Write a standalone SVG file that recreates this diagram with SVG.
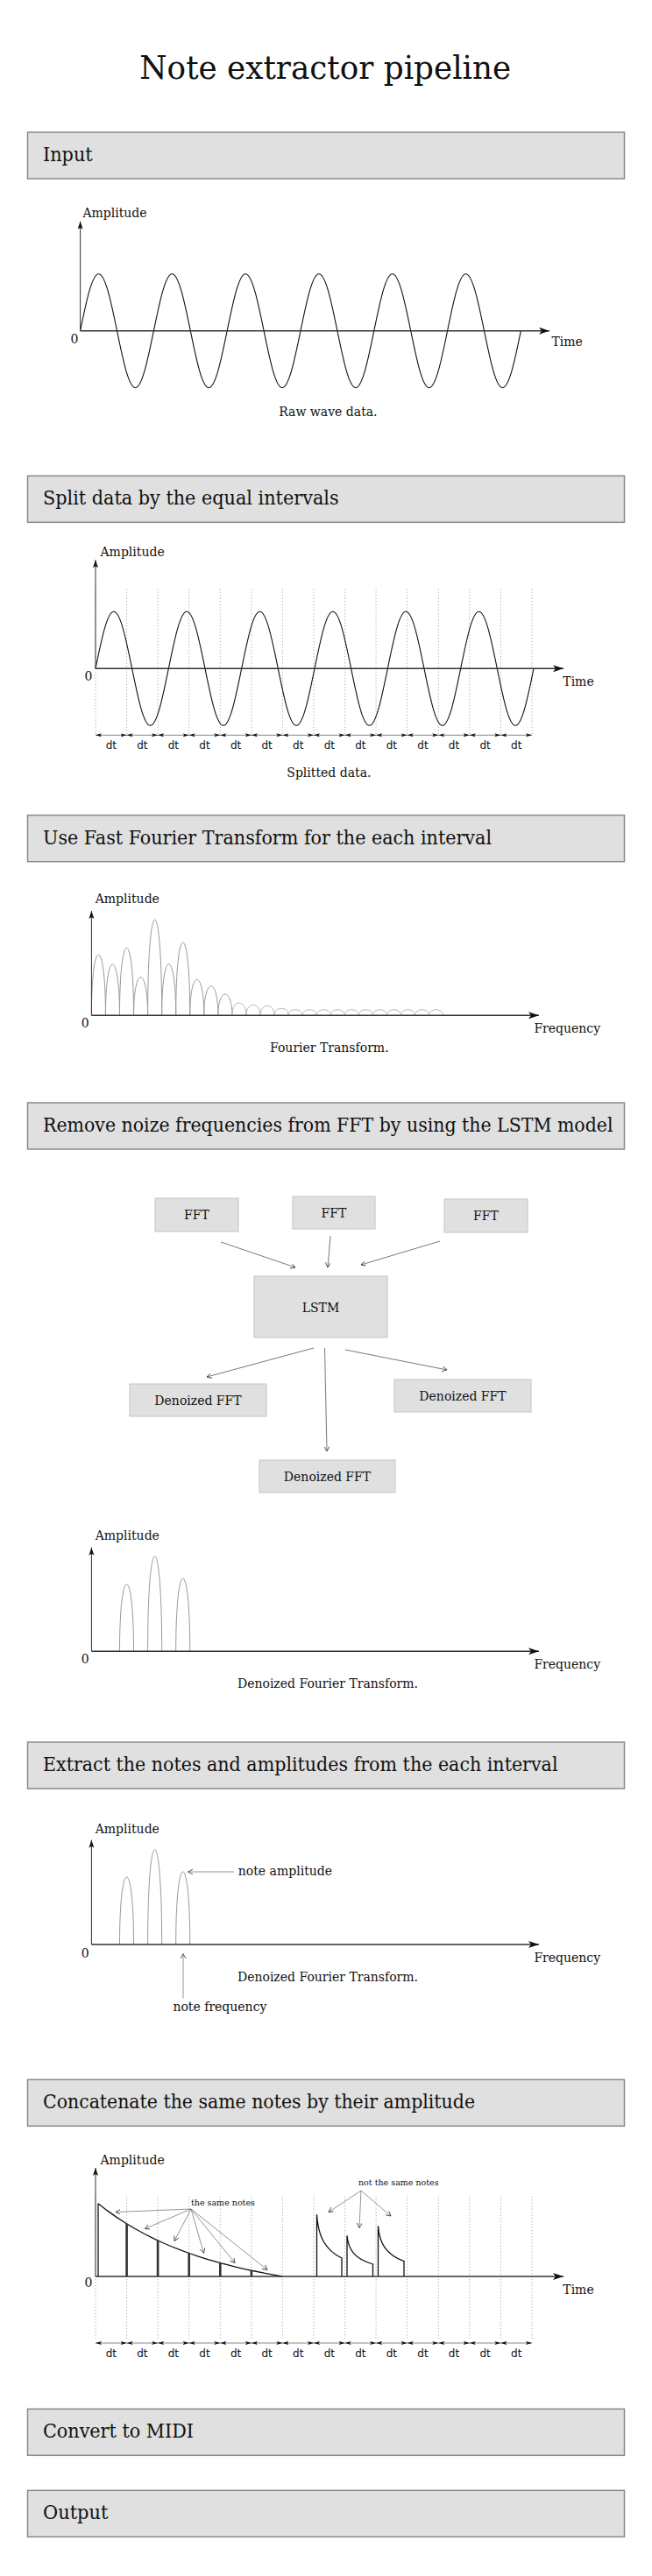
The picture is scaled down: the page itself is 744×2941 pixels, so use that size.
<svg xmlns="http://www.w3.org/2000/svg" width="744" height="2941" viewBox="0 0 744 2941">
<style>
text{font-family:"DejaVu Serif","Liberation Serif",serif;fill:#111}
.title{font-size:38px}
.hdr{font-size:22px}
.lbl{font-size:14px}
.sm{font-size:9.5px}
.dt{font-family:"DejaVu Sans","Liberation Sans",sans-serif;font-size:12px;text-anchor:middle}
.mid{text-anchor:middle}
.hbox{fill:#e0e0e0;stroke:#8a8a8a;stroke-width:1.5}
.nbox{fill:#e0e0e0;stroke:#c4c4c4;stroke-width:1}
.xax{stroke:#333;stroke-width:1.6;fill:none;marker-end:url(#xhead)}
.yax{stroke:#333;stroke-width:1;fill:none;marker-end:url(#yhead)}
.wave{stroke:#111;stroke-width:1.1;fill:none}
.dot{stroke:#999;stroke-width:1;stroke-dasharray:1 2.5;fill:none}
.dtl{stroke:#888;stroke-width:1;marker-start:url(#dth);marker-end:url(#dth)}
.lobe{stroke:#9a9a9a;stroke-width:1;fill:none}
.lobe2{stroke:#b5b5b5;stroke-width:1;fill:none}
.conn{stroke:#555;stroke-width:0.8;fill:none;marker-end:url(#open)}
.ann{stroke:#666;stroke-width:0.7;fill:none;marker-end:url(#open)}
.note{stroke:#111;stroke-width:1.3;fill:none}
.bar{stroke:#333;stroke-width:2.6}
</style>
<defs>
<marker id="xhead" markerUnits="userSpaceOnUse" markerWidth="13" markerHeight="9" refX="12" refY="4" orient="auto"><path d="M0,0 L12,4 L0,8 L3,4 z" fill="#111"/></marker>
<marker id="yhead" markerUnits="userSpaceOnUse" markerWidth="10" markerHeight="7" refX="9" refY="3" orient="auto"><path d="M0,0 L9,3 L0,6 L2,3 z" fill="#111"/></marker>
<marker id="open" markerUnits="userSpaceOnUse" markerWidth="7" markerHeight="7" refX="5.5" refY="3" orient="auto"><path d="M0,0 L5.5,3 L0,6" fill="none" stroke="#333" stroke-width="0.8"/></marker>
<marker id="dth" markerUnits="userSpaceOnUse" markerWidth="8" markerHeight="5" refX="7" refY="2" orient="auto-start-reverse"><path d="M0,0 L7,2 L0,4 L1.5,2 z" fill="#111"/></marker>
</defs>
<rect x="0" y="0" width="744" height="2941" fill="#fff"/>

<g id="title"><text class="title" x="159.3" y="90" textLength="424" lengthAdjust="spacingAndGlyphs">Note extractor pipeline</text></g>

<!-- Headers -->
<g id="step-input"><rect class="hbox" x="31.5" y="151" width="681" height="53"/><text class="hdr" x="49" y="184" textLength="56.7" lengthAdjust="spacingAndGlyphs">Input</text></g>
<g id="step-split"><rect class="hbox" x="31.5" y="543.3" width="681" height="53"/><text class="hdr" x="49" y="576.3" textLength="337.6" lengthAdjust="spacingAndGlyphs">Split data by the equal intervals</text></g>
<g id="step-fft"><rect class="hbox" x="31.5" y="930.7" width="681" height="53"/><text class="hdr" x="49" y="963.7" textLength="512" lengthAdjust="spacingAndGlyphs">Use Fast Fourier Transform for the each interval</text></g>
<g id="step-denoise"><rect class="hbox" x="31.5" y="1259" width="681" height="53"/><text class="hdr" x="49" y="1292" textLength="650.5" lengthAdjust="spacingAndGlyphs">Remove noize frequencies from FFT by using the LSTM model</text></g>
<g id="step-extract"><rect class="hbox" x="31.5" y="1989" width="681" height="53"/><text class="hdr" x="49" y="2022" textLength="587.5" lengthAdjust="spacingAndGlyphs">Extract the notes and amplitudes from the each interval</text></g>
<g id="step-concat"><rect class="hbox" x="31.5" y="2374.3" width="681" height="53"/><text class="hdr" x="49" y="2407.3" textLength="493" lengthAdjust="spacingAndGlyphs">Concatenate the same notes by their amplitude</text></g>
<g id="step-midi"><rect class="hbox" x="31.5" y="2750.3" width="681" height="53"/><text class="hdr" x="49" y="2783.3" textLength="172" lengthAdjust="spacingAndGlyphs">Convert to MIDI</text></g>
<g id="step-output"><rect class="hbox" x="31.5" y="2843.3" width="681" height="53"/><text class="hdr" x="49" y="2876.3" textLength="74.4" lengthAdjust="spacingAndGlyphs">Output</text></g>

<!-- Chart 1: raw wave -->
<g id="chart-raw">
<path class="wave" d="M91.6,377.7 c6.832,-33.3 13.368,-65 20.95,-65 c7.582,0 14.118,31.7 20.95,65 c6.832,33.3 13.368,65 20.95,65 c7.582,0 14.118,-31.7 20.95,-65 c6.832,-33.3 13.368,-65 20.95,-65 c7.582,0 14.118,31.7 20.95,65 c6.832,33.3 13.368,65 20.95,65 c7.582,0 14.118,-31.7 20.95,-65 c6.832,-33.3 13.368,-65 20.95,-65 c7.582,0 14.118,31.7 20.95,65 c6.832,33.3 13.368,65 20.95,65 c7.582,0 14.118,-31.7 20.95,-65 c6.832,-33.3 13.368,-65 20.95,-65 c7.582,0 14.118,31.7 20.95,65 c6.832,33.3 13.368,65 20.95,65 c7.582,0 14.118,-31.7 20.95,-65 c6.832,-33.3 13.368,-65 20.95,-65 c7.582,0 14.118,31.7 20.95,65 c6.832,33.3 13.368,65 20.95,65 c7.582,0 14.118,-31.7 20.95,-65 c6.832,-33.3 13.368,-65 20.95,-65 c7.582,0 14.118,31.7 20.95,65 c6.832,33.3 13.368,65 20.95,65 c7.582,0 14.118,-31.7 20.95,-65"/>
<line class="yax" x1="91.6" y1="377.7" x2="91.6" y2="252.7"/>
<line class="xax" x1="91.6" y1="377.7" x2="627" y2="377.7"/>
<text class="lbl" x="94.4" y="248.3">Amplitude</text>
<text class="lbl mid" x="85" y="391.7">0</text>
<text class="lbl" x="629.5" y="395">Time</text>
<text class="lbl mid" x="374.4" y="475">Raw wave data.</text>
</g>

<!-- Chart 2: split -->
<g id="chart-split">
<path class="dot" d="M109,672.3V838.3M144.6,672.3V838.3M180.1,672.3V838.3M215.7,672.3V838.3M251.3,672.3V838.3M286.9,672.3V838.3M322.4,672.3V838.3M358,672.3V838.3M393.6,672.3V838.3M429.1,672.3V838.3M464.7,672.3V838.3M500.3,672.3V838.3M535.8,672.3V838.3M571.4,672.3V838.3M607,672.3V838.3"/>
<path class="wave" d="M109,763.3 c6.794,-33.3 13.293,-65 20.833,-65 c7.54,0 14.039,31.7 20.833,65 c6.794,33.3 13.293,65 20.833,65 c7.54,0 14.039,-31.7 20.833,-65 c6.794,-33.3 13.293,-65 20.833,-65 c7.54,0 14.039,31.7 20.833,65 c6.794,33.3 13.293,65 20.833,65 c7.54,0 14.039,-31.7 20.833,-65 c6.794,-33.3 13.293,-65 20.833,-65 c7.54,0 14.039,31.7 20.833,65 c6.794,33.3 13.293,65 20.833,65 c7.54,0 14.039,-31.7 20.833,-65 c6.794,-33.3 13.293,-65 20.833,-65 c7.54,0 14.039,31.7 20.833,65 c6.794,33.3 13.293,65 20.833,65 c7.54,0 14.039,-31.7 20.833,-65 c6.794,-33.3 13.293,-65 20.833,-65 c7.54,0 14.039,31.7 20.833,65 c6.794,33.3 13.293,65 20.833,65 c7.54,0 14.039,-31.7 20.833,-65 c6.794,-33.3 13.293,-65 20.833,-65 c7.54,0 14.039,31.7 20.833,65 c6.794,33.3 13.293,65 20.833,65 c7.54,0 14.039,-31.7 20.833,-65"/>
<line class="yax" x1="109" y1="763.3" x2="109" y2="639.3"/>
<line class="xax" x1="109" y1="763.3" x2="643" y2="763.3"/>
<g>
<line class="dtl" x1="109" y1="839.3" x2="144.6" y2="839.3"/><line class="dtl" x1="144.6" y1="839.3" x2="180.1" y2="839.3"/><line class="dtl" x1="180.1" y1="839.3" x2="215.7" y2="839.3"/><line class="dtl" x1="215.7" y1="839.3" x2="251.3" y2="839.3"/><line class="dtl" x1="251.3" y1="839.3" x2="286.9" y2="839.3"/><line class="dtl" x1="286.9" y1="839.3" x2="322.4" y2="839.3"/><line class="dtl" x1="322.4" y1="839.3" x2="358" y2="839.3"/><line class="dtl" x1="358" y1="839.3" x2="393.6" y2="839.3"/><line class="dtl" x1="393.6" y1="839.3" x2="429.1" y2="839.3"/><line class="dtl" x1="429.1" y1="839.3" x2="464.7" y2="839.3"/><line class="dtl" x1="464.7" y1="839.3" x2="500.3" y2="839.3"/><line class="dtl" x1="500.3" y1="839.3" x2="535.8" y2="839.3"/><line class="dtl" x1="535.8" y1="839.3" x2="571.4" y2="839.3"/><line class="dtl" x1="571.4" y1="839.3" x2="607" y2="839.3"/>
</g>
<g>
<text class="dt" x="126.8" y="855.3">dt</text><text class="dt" x="162.4" y="855.3">dt</text><text class="dt" x="197.9" y="855.3">dt</text><text class="dt" x="233.5" y="855.3">dt</text><text class="dt" x="269.1" y="855.3">dt</text><text class="dt" x="304.6" y="855.3">dt</text><text class="dt" x="340.2" y="855.3">dt</text><text class="dt" x="375.8" y="855.3">dt</text><text class="dt" x="411.3" y="855.3">dt</text><text class="dt" x="446.9" y="855.3">dt</text><text class="dt" x="482.5" y="855.3">dt</text><text class="dt" x="518" y="855.3">dt</text><text class="dt" x="553.6" y="855.3">dt</text><text class="dt" x="589.2" y="855.3">dt</text>
</g>
<text class="lbl" x="114.5" y="635">Amplitude</text>
<text class="lbl mid" x="101" y="776.7">0</text>
<text class="lbl" x="642.3" y="783.3">Time</text>
<text class="lbl mid" x="375.4" y="886.7">Splitted data.</text>
</g>

<!-- Chart 3: FFT -->
<g id="chart-fft">
<path class="lobe" d="M104.4,1159.3C104.4,1066.9 120.45,1066.9 120.45,1159.3 M120.45,1159.3C120.45,1081.6 136.5,1081.6 136.5,1159.3 M136.5,1159.3C136.5,1056.6 152.55,1056.6 152.55,1159.3 M152.55,1159.3C152.55,1101.2 168.6,1101.2 168.6,1159.3 M168.6,1159.3C168.6,1013.6 184.65,1013.6 184.65,1159.3 M184.65,1159.3C184.65,1081.2 200.7,1081.2 200.7,1159.3 M200.7,1159.3C200.7,1048.2 216.75,1048.2 216.75,1159.3 M216.75,1159.3C216.75,1104.6 232.8,1104.6 232.8,1159.3 M232.8,1159.3C232.8,1114.5 248.85,1114.5 248.85,1159.3 M248.85,1159.3C248.85,1126.9 264.9,1126.9 264.9,1159.3"/>
<path class="lobe2" d="M264.9,1159.3C264.9,1140.2 280.95,1140.2 280.95,1159.3 M280.95,1159.3C280.95,1143.3 297,1143.3 297,1159.3 M297,1159.3C297,1144.6 313.05,1144.6 313.05,1159.3 M313.05,1159.3C313.05,1148.6 329.1,1148.6 329.1,1159.3 M329.1,1159.3C329.1,1150.6 345.15,1150.6 345.15,1159.3 M345.15,1159.3C345.15,1150.6 361.2,1150.6 361.2,1159.3 M361.2,1159.3C361.2,1150.6 377.25,1150.6 377.25,1159.3 M377.25,1159.3C377.25,1150.6 393.3,1150.6 393.3,1159.3 M393.3,1159.3C393.3,1150.6 409.35,1150.6 409.35,1159.3 M409.35,1159.3C409.35,1150.6 425.4,1150.6 425.4,1159.3 M425.4,1159.3C425.4,1150.6 441.45,1150.6 441.45,1159.3 M441.45,1159.3C441.45,1150.6 457.5,1150.6 457.5,1159.3 M457.5,1159.3C457.5,1150.6 473.55,1150.6 473.55,1159.3 M473.55,1159.3C473.55,1150.6 489.6,1150.6 489.6,1159.3 M489.6,1159.3C489.6,1150.6 505.65,1150.6 505.65,1159.3"/>
<line class="yax" x1="104.4" y1="1159.3" x2="104.4" y2="1040"/>
<line class="xax" x1="104.4" y1="1159.3" x2="615" y2="1159.3"/>
<text class="lbl" x="108.7" y="1031">Amplitude</text>
<text class="lbl mid" x="97.3" y="1173.3">0</text>
<text class="lbl" x="609.4" y="1179.3">Frequency</text>
<text class="lbl mid" x="375.8" y="1201">Fourier Transform.</text>
</g>

<!-- LSTM nodes -->
<g id="fft-1"><rect class="nbox" x="177" y="1368" width="95" height="38"/><text class="lbl mid" x="224.5" y="1392">FFT</text></g>
<g id="fft-2"><rect class="nbox" x="334" y="1366" width="94" height="37"/><text class="lbl mid" x="381" y="1389.5">FFT</text></g>
<g id="fft-3"><rect class="nbox" x="507" y="1369" width="95" height="38"/><text class="lbl mid" x="554.5" y="1393">FFT</text></g>
<g id="lstm"><rect class="nbox" x="290" y="1457" width="152" height="70"/><text class="lbl mid" x="366" y="1497.5">LSTM</text></g>
<g id="denoized-1"><rect class="nbox" x="148" y="1580" width="156" height="37"/><text class="lbl mid" x="226" y="1603.5">Denoized FFT</text></g>
<g id="denoized-2"><rect class="nbox" x="450" y="1575" width="156" height="37"/><text class="lbl mid" x="528" y="1598.5">Denoized FFT</text></g>
<g id="denoized-3"><rect class="nbox" x="296" y="1667" width="155" height="37"/><text class="lbl mid" x="373.5" y="1690.5">Denoized FFT</text></g>

<!-- Chart 4: denoised FFT -->
<g id="chart-denoised">
<path class="lobe" d="M136.5,1885.3C136.5,1783.2 152.55,1783.2 152.55,1885.3 M168.6,1885.3C168.6,1740.5 184.65,1740.5 184.65,1885.3 M200.7,1885.3C200.7,1774.2 216.75,1774.2 216.75,1885.3"/>
<line class="yax" x1="104.4" y1="1885.3" x2="104.4" y2="1766.7"/>
<line class="xax" x1="104.4" y1="1885.3" x2="615" y2="1885.3"/>
<text class="lbl" x="108.7" y="1757.7">Amplitude</text>
<text class="lbl mid" x="97.3" y="1899">0</text>
<text class="lbl" x="609.4" y="1905">Frequency</text>
<text class="lbl mid" x="374" y="1927">Denoized Fourier Transform.</text>
</g>

<!-- Chart 5: extract -->
<g id="chart-extract">
<path class="lobe" d="M136.5,2220C136.5,2117.3 152.55,2117.3 152.55,2220 M168.6,2220C168.6,2075.6 184.65,2075.6 184.65,2220 M200.7,2220C200.7,2109.3 216.75,2109.3 216.75,2220"/>
<line class="yax" x1="104.4" y1="2220" x2="104.4" y2="2100.7"/>
<line class="xax" x1="104.4" y1="2220" x2="615" y2="2220"/>
<text class="lbl" x="108.7" y="2092.7">Amplitude</text>
<text class="lbl mid" x="97.3" y="2235">0</text>
<text class="lbl" x="609.4" y="2240">Frequency</text>
<text class="lbl mid" x="374" y="2262">Denoized Fourier Transform.</text>
<text class="lbl" x="271.8" y="2140.7">note amplitude</text>
<text class="lbl" x="197.4" y="2296">note frequency</text>
</g>

<!-- Chart 6: concatenate -->
<g id="chart-concat">
<path class="dot" d="M109,2507.7V2672M144.6,2507.7V2672M180.1,2507.7V2672M215.7,2507.7V2672M251.3,2507.7V2672M286.9,2507.7V2672M322.4,2507.7V2672M358,2507.7V2672M393.6,2507.7V2672M429.1,2507.7V2672M464.7,2507.7V2672M500.3,2507.7V2672M535.8,2507.7V2672M571.4,2507.7V2672M607,2507.7V2672"/>
<path class="note" d="M112,2599V2515.7"/>
<polyline class="note" points="112,2515.7 122.5,2523.9 133,2531.4 143.6,2538.2 154.1,2544.5 164.6,2550.3 175.1,2555.6 185.6,2560.5 196.2,2565 206.7,2569.2 217.2,2573 227.7,2576.6 238.2,2579.8 248.8,2582.9 259.3,2585.7 269.8,2588.3 280.3,2590.8 290.8,2593 301.4,2595.2 311.9,2597.1 322.4,2599"/>
<path class="bar" d="M144.6,2599V2538.8M180.1,2599V2558.1M215.7,2599V2572.5M251.3,2599V2583.6M286.9,2599V2592.2"/>
<path class="note" d="M361.5,2599V2528.3C363,2553 371,2569 390,2578V2599"/>
<path class="note" d="M396,2599V2552.3C397.5,2569 405,2579 425.5,2585V2599"/>
<path class="note" d="M431.5,2599V2541.3C433,2562 441,2574 461,2581.7V2599"/>
<line class="yax" x1="109" y1="2599" x2="109" y2="2475"/>
<line class="xax" x1="109" y1="2599" x2="643" y2="2599"/>
<g>
<line class="dtl" x1="109" y1="2675" x2="144.6" y2="2675"/><line class="dtl" x1="144.6" y1="2675" x2="180.1" y2="2675"/><line class="dtl" x1="180.1" y1="2675" x2="215.7" y2="2675"/><line class="dtl" x1="215.7" y1="2675" x2="251.3" y2="2675"/><line class="dtl" x1="251.3" y1="2675" x2="286.9" y2="2675"/><line class="dtl" x1="286.9" y1="2675" x2="322.4" y2="2675"/><line class="dtl" x1="322.4" y1="2675" x2="358" y2="2675"/><line class="dtl" x1="358" y1="2675" x2="393.6" y2="2675"/><line class="dtl" x1="393.6" y1="2675" x2="429.1" y2="2675"/><line class="dtl" x1="429.1" y1="2675" x2="464.7" y2="2675"/><line class="dtl" x1="464.7" y1="2675" x2="500.3" y2="2675"/><line class="dtl" x1="500.3" y1="2675" x2="535.8" y2="2675"/><line class="dtl" x1="535.8" y1="2675" x2="571.4" y2="2675"/><line class="dtl" x1="571.4" y1="2675" x2="607" y2="2675"/>
</g>
<g>
<text class="dt" x="126.8" y="2690.5">dt</text><text class="dt" x="162.4" y="2690.5">dt</text><text class="dt" x="197.9" y="2690.5">dt</text><text class="dt" x="233.5" y="2690.5">dt</text><text class="dt" x="269.1" y="2690.5">dt</text><text class="dt" x="304.6" y="2690.5">dt</text><text class="dt" x="340.2" y="2690.5">dt</text><text class="dt" x="375.8" y="2690.5">dt</text><text class="dt" x="411.3" y="2690.5">dt</text><text class="dt" x="446.9" y="2690.5">dt</text><text class="dt" x="482.5" y="2690.5">dt</text><text class="dt" x="518" y="2690.5">dt</text><text class="dt" x="553.6" y="2690.5">dt</text><text class="dt" x="589.2" y="2690.5">dt</text>
</g>
<text class="lbl" x="114.5" y="2471">Amplitude</text>
<text class="lbl mid" x="101" y="2611">0</text>
<text class="lbl" x="642.3" y="2619">Time</text>
<text class="sm" x="218" y="2518.3">the same notes</text>
<text class="sm" x="409" y="2495">not the same notes</text>
</g>

<!-- Connectors -->
<g id="connectors">
<line class="conn" x1="252" y1="1418" x2="337" y2="1447"/>
<line class="conn" x1="377" y1="1411" x2="374" y2="1447"/>
<line class="conn" x1="502" y1="1417" x2="412" y2="1444"/>
<line class="conn" x1="358" y1="1539" x2="236" y2="1572"/>
<line class="conn" x1="370.5" y1="1539" x2="373" y2="1657"/>
<line class="conn" x1="394" y1="1541" x2="510" y2="1564"/>
<line class="ann" x1="267" y1="2137" x2="214.6" y2="2137"/>
<line class="ann" x1="209" y1="2281.7" x2="209" y2="2230.7"/>
<line class="ann" x1="218" y1="2522" x2="132" y2="2525.5"/>
<line class="ann" x1="218" y1="2522" x2="165.5" y2="2544.5"/>
<line class="ann" x1="218" y1="2522" x2="199" y2="2558.5"/>
<line class="ann" x1="218" y1="2522" x2="232.5" y2="2572.3"/>
<line class="ann" x1="218" y1="2522" x2="268" y2="2583.5"/>
<line class="ann" x1="218" y1="2522" x2="305" y2="2591.5"/>
<line class="ann" x1="412" y1="2501" x2="375" y2="2525.5"/>
<line class="ann" x1="412" y1="2501" x2="410" y2="2543.5"/>
<line class="ann" x1="412" y1="2501" x2="446" y2="2530"/>
</g>
</svg>
